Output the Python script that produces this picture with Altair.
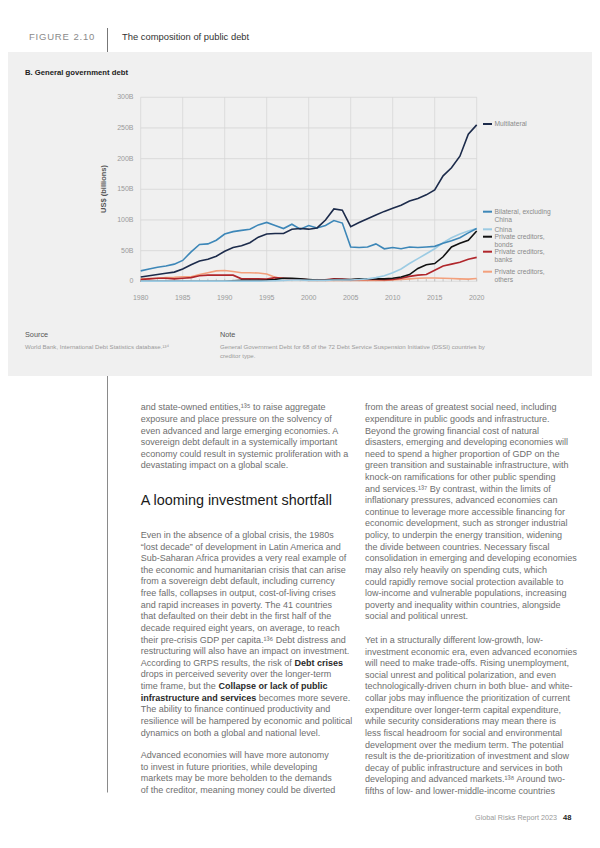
import altair as alt
import pandas as pd

# ---------------- data ----------------
years = list(range(1980, 2021))
multilateral = [7, 9, 11, 13, 15, 20, 27, 33, 36, 41,
                49, 55, 58, 63, 72, 77, 78, 78, 85, 86,
                85, 87, 100, 118, 116, 89, 96, 102, 108, 114,
                119, 124, 131, 135, 141, 149, 172, 185, 204, 240,
                255]
bilateral_ex_china = [17, 20, 23, 25, 28, 34, 48, 60, 61, 67,
                      77, 81, 83, 85, 92, 96, 91, 86, 93, 85,
                      91, 87, 91, 99, 95, 56, 55, 56, 61, 53,
                      55, 53, 56, 55, 56, 57, 62, 66, 71, 79,
                      86]
china = [0.3, 0.3, 0.3, 0.3, 0.3, 0.3, 0.3, 0.3, 0.3, 0.3,
         0.3, 0.3, 0.3, 0.3, 0.3, 0.5, 1, 1.5, 2, 2,
         1.5, 1.5, 1.5, 2, 2, 2, 3, 4, 6, 9,
         14, 20, 29, 37, 45, 53, 63, 71, 77, 82,
         86]
private_bonds = [0, 0, 0, 0, 0, 0, 0, 0, 0, 0,
                 0, 1, 1.5, 1.5, 1.5, 2, 3, 5, 5, 4,
                 3, 2, 2, 3, 3, 3, 4, 4, 4, 4,
                 5, 7, 11, 21, 27, 29, 40, 56, 62, 67,
                 82]
private_banks = [3, 4, 5, 5, 4, 5, 6, 9, 10, 10,
                 10, 10, 4, 4, 4, 3.5, 6, 5, 4, 3.5,
                 2.5, 2.5, 2.5, 4, 3.5, 2.5, 3, 3, 3, 2.5,
                 3, 5, 8, 10, 11, 18, 25, 28, 31, 36,
                 39]
private_others = [4, 4.5, 5, 6, 6.5, 7.5, 7.5, 11, 14, 17,
                  17.5, 16, 14, 14, 13.5, 12, 6.5, 4.5, 4, 3,
                  1.5, 1.5, 1.5, 1.5, 1.5, 1.5, 1.5, 1.5, 1.5, 1.5,
                  2, 3, 4, 5, 5.5, 5.5, 5, 4.5, 4, 3.5,
                  4.5]

series_names = ["Multilateral", "Bilateral, excluding China", "China",
                "Private creditors, bonds", "Private creditors, banks",
                "Private creditors, others"]
series_values = [multilateral, bilateral_ex_china, china,
                 private_bonds, private_banks, private_others]
series_colors = ["#1c2b4b", "#3d87b8", "#9ccbe3", "#111111", "#b0262b", "#f3a07c"]
legend_lines = [["Multilateral"], ["Bilateral, excluding", "China"], ["China"],
                ["Private creditors,", "bonds"], ["Private creditors,", "banks"],
                ["Private creditors,", "others"]]

y_ticks = [0, 50, 100, 150, 200, 250, 300]
y_tick_labels = ["0", "50B", "100B", "150B", "200B", "250B", "300B"]
x_ticks = [1980, 1985, 1990, 1995, 2000, 2005, 2010, 2015, 2020]

para_left_1 = [
    "and state-owned entities,\u00b9\u00b3\u2075 to raise aggregate",
    "exposure and place pressure on the solvency of",
    "even advanced and large emerging economies. A",
    "sovereign debt default in a systemically important",
    "economy could result in systemic proliferation with a",
    "devastating impact on a global scale.",
]
heading = "A looming investment shortfall"
para_left_2a = [
    "Even in the absence of a global crisis, the 1980s",
    "\u201clost decade\u201d of development in Latin America and",
    "Sub-Saharan Africa provides a very real example of",
    "the economic and humanitarian crisis that can arise",
    "from a sovereign debt default, including currency",
    "free falls, collapses in output, cost-of-living crises",
    "and rapid increases in poverty. The 41 countries",
    "that defaulted on their debt in the first half of the",
    "decade required eight years, on average, to reach",
    "their pre-crisis GDP per capita.\u00b9\u00b3\u2076 Debt distress and",
    "restructuring will also have an impact on investment.",
    "According to GRPS results, the risk of",
    "drops in perceived severity over the longer-term",
    "time frame, but the",
]
bold_1 = "Debt crises"
bold_2 = "Collapse or lack of public"
bold_3 = "infrastructure and services"
after_bold_3 = "becomes more severe."
para_left_2b = [
    "The ability to finance continued productivity and",
    "resilience will be hampered by economic and political",
    "dynamics on both a global and national level.",
]
para_left_3 = [
    "Advanced economies will have more autonomy",
    "to invest in future priorities, while developing",
    "markets may be more beholden to the demands",
    "of the creditor, meaning money could be diverted",
]
para_right_1 = [
    "from the areas of greatest social need, including",
    "expenditure in public goods and infrastructure.",
    "Beyond the growing financial cost of natural",
    "disasters, emerging and developing economies will",
    "need to spend a higher proportion of GDP on the",
    "green transition and sustainable infrastructure, with",
    "knock-on ramifications for other public spending",
    "and services.\u00b9\u00b3\u2077 By contrast, within the limits of",
    "inflationary pressures, advanced economies can",
    "continue to leverage more accessible financing for",
    "economic development, such as stronger industrial",
    "policy, to underpin the energy transition, widening",
    "the divide between countries. Necessary fiscal",
    "consolidation in emerging and developing economies",
    "may also rely heavily on spending cuts, which",
    "could rapidly remove social protection available to",
    "low-income and vulnerable populations, increasing",
    "poverty and inequality within countries, alongside",
    "social and political unrest.",
]
para_right_2 = [
    "Yet in a structurally different low-growth, low-",
    "investment economic era, even advanced economies",
    "will need to make trade-offs. Rising unemployment,",
    "social unrest and political polarization, and even",
    "technologically-driven churn in both blue- and white-",
    "collar jobs may influence the prioritization of current",
    "expenditure over longer-term capital expenditure,",
    "while security considerations may mean there is",
    "less fiscal headroom for social and environmental",
    "development over the medium term. The potential",
    "result is the de-prioritization of investment and slow",
    "decay of public infrastructure and services in both",
    "developing and advanced markets.\u00b9\u00b3\u2078 Around two-",
    "fifths of low- and lower-middle-income countries",
]

# ---------------- layout ----------------
FONT = "Liberation Sans"
W, H = 584, 832


def px(v):
    return v - 8  # page coordinate -> chart coordinate


X0, X1 = px(140.7), px(476.7)
Y0, YT = px(281.3), px(97.3)
xs = alt.Scale(domain=[1980, 2020], range=[X0, X1], nice=False, zero=False)
ys = alt.Scale(domain=[0, 300], range=[Y0, YT], nice=False, zero=False)

one = pd.DataFrame({"k": [0]})


def txt(x, y, text, size=8.5, color="#6b6b6b", weight="normal", align="left",
        baseline="alphabetic", lh=None, angle=None):
    kw = dict(align=align, baseline=baseline, fontSize=size, color=color,
              fontWeight=weight, font=FONT)
    if lh:
        kw["lineHeight"] = lh
    if angle is not None:
        kw["angle"] = angle
    return alt.Chart(one).mark_text(**kw).encode(
        x=alt.value(x), y=alt.value(y), text=alt.value(text))


def vline(x, y1, y2, color="#9a9a9a", w=1.0):
    return alt.Chart(one).mark_rule(color=color, strokeWidth=w).encode(
        x=alt.value(x), y=alt.value(y1), y2=alt.value(y2))


layers = []

# grey panel
layers.append(alt.Chart(one).mark_rect(color="#f0f0f0").encode(
    x=alt.value(-8), x2=alt.value(W + 8), y=alt.value(px(52)), y2=alt.value(px(376))))

# header
layers.append(txt(px(29), px(39.5), "\u200aF\u200aI\u200aG\u200aU\u200aR\u200aE\u2009 2\u200a.\u200a1\u200a0",
                  size=9.5, color="#8a8a8a"))
layers.append(vline(px(107.5), px(28), px(52), color="#777777"))
layers.append(txt(px(122), px(39.5), "The composition of public debt", size=9.4, color="#333333"))
layers.append(txt(px(25), px(75), "B. General government debt", size=7.7, color="#222222", weight="bold"))

# grid
grid_y = pd.DataFrame({"value": y_ticks, "label": y_tick_labels})
grid_x = pd.DataFrame({"year": x_ticks, "label": [str(v) for v in x_ticks]})
tick_df = pd.DataFrame({"year": years})

layers.append(alt.Chart(grid_y).mark_rule(color="#d6d6d6", strokeWidth=0.8).encode(
    y=alt.Y("value:Q", scale=ys, axis=None), x=alt.value(X0), x2=alt.value(X1)))
layers.append(alt.Chart(grid_x).mark_rule(color="#d6d6d6", strokeWidth=0.8).encode(
    x=alt.X("year:Q", scale=xs, axis=None), y=alt.value(YT), y2=alt.value(Y0)))
layers.append(alt.Chart(tick_df).mark_rule(color="#b5b5b5", strokeWidth=0.7).encode(
    x=alt.X("year:Q", scale=xs, axis=None), y=alt.value(Y0 - 2.5), y2=alt.value(Y0)))

# axis labels
layers.append(alt.Chart(grid_y).mark_text(align="right", baseline="middle", fontSize=7,
                                          color="#9a9a9a", font=FONT).encode(
    y=alt.Y("value:Q", scale=ys, axis=None), x=alt.value(px(133.5)), text="label:N"))
layers.append(alt.Chart(grid_x).mark_text(align="center", baseline="middle", fontSize=7,
                                          color="#9a9a9a", font=FONT).encode(
    x=alt.X("year:Q", scale=xs, axis=None), y=alt.value(px(298)), text="label:N"))
layers.append(txt(px(106), px(189), "US$ (billions)", size=7.5, color="#555555",
                  weight="bold", align="center", angle=270))

# lines
rows = []
for name, vals in zip(series_names, series_values):
    for yr, v in zip(years, vals):
        rows.append({"series": name, "year": yr, "value": v})
df = pd.DataFrame(rows)
draw_order = list(reversed(series_names))
for name in draw_order:
    layers.append(alt.Chart(df[df.series == name]).mark_line(strokeWidth=1.6).encode(
        x=alt.X("year:Q", scale=xs, axis=None),
        y=alt.Y("value:Q", scale=ys, axis=None),
        color=alt.Color("series:N", scale=alt.Scale(domain=series_names, range=series_colors),
                        legend=None)))

# legend
legend_y = [124, 211.7, 229.3, 236.7, 251.7, 271.7]
for name, col, lines, ly in zip(series_names, series_colors, legend_lines, legend_y):
    layers.append(alt.Chart(one).mark_rule(color=col, strokeWidth=2).encode(
        x=alt.value(px(483)), x2=alt.value(px(492)), y=alt.value(px(ly))))
    layers.append(txt(px(494.5), px(ly + 2.3), lines, size=6.7, color="#8a8a8a", lh=8.2))

# source / note
layers.append(txt(px(25), px(336.5), "Source", size=7.3, color="#555555"))
layers.append(txt(px(25), px(349.2), "World Bank, International Debt Statistics database.\u00b9\u00b3\u2074",
                  size=6.1, color="#9a9a9a"))
layers.append(txt(px(220), px(336.5), "Note", size=7.3, color="#555555"))
layers.append(txt(px(220), px(349.2),
                  ["General Government Debt for 68 of the 72 Debt Service Suspension Initiative (DSSI) countries by",
                   "creditor type."], size=6.15, color="#9a9a9a", lh=9.3))

# body
LH = 11.62
BODY = 9.0
BC = "#6e6e6e"
BOLDC = "#2a2a2a"
layers.append(vline(px(107.5), px(376), px(792.5), color="#8a8a8a"))
CL, CR = px(140.7), px(365)
layers.append(txt(CL, px(410.3), para_left_1, size=BODY, color=BC, lh=LH))
layers.append(txt(CL, px(505), heading, size=14.4, color="#1a1a1a"))
p2y = px(538)
layers.append(txt(CL, p2y, para_left_2a, size=BODY, color=BC, lh=LH))
layers.append(txt(px(294.5), p2y + 11 * LH, bold_1, size=BODY, color=BOLDC, weight="bold"))
layers.append(txt(px(218.5), p2y + 13 * LH, bold_2, size=BODY, color=BOLDC, weight="bold"))
layers.append(txt(CL, p2y + 14 * LH, bold_3, size=BODY, color=BOLDC, weight="bold"))
layers.append(txt(px(258.7), p2y + 14 * LH, after_bold_3, size=BODY, color=BC))
layers.append(txt(CL, p2y + 15 * LH, para_left_2b, size=BODY, color=BC, lh=LH))
layers.append(txt(CL, px(758), para_left_3, size=BODY, color=BC, lh=LH))
layers.append(txt(CR, px(410.3), para_right_1, size=BODY, color=BC, lh=LH))
layers.append(txt(CR, px(643), para_right_2, size=BODY, color=BC, lh=LH))

# footer
layers.append(txt(px(557), px(820), "Global Risks Report 2023", size=7.2, color="#9a9a9a", align="right"))
layers.append(txt(px(563), px(820), "48", size=7.5, color="#222222", weight="bold"))

chart = alt.layer(*layers).properties(
    width=W, height=H, autosize=alt.AutoSizeParams(type="none"), padding=0,
    background="white"
).configure_view(stroke=None)

chart.save("out.html", embed_options={"renderer": "svg", "actions": False})
